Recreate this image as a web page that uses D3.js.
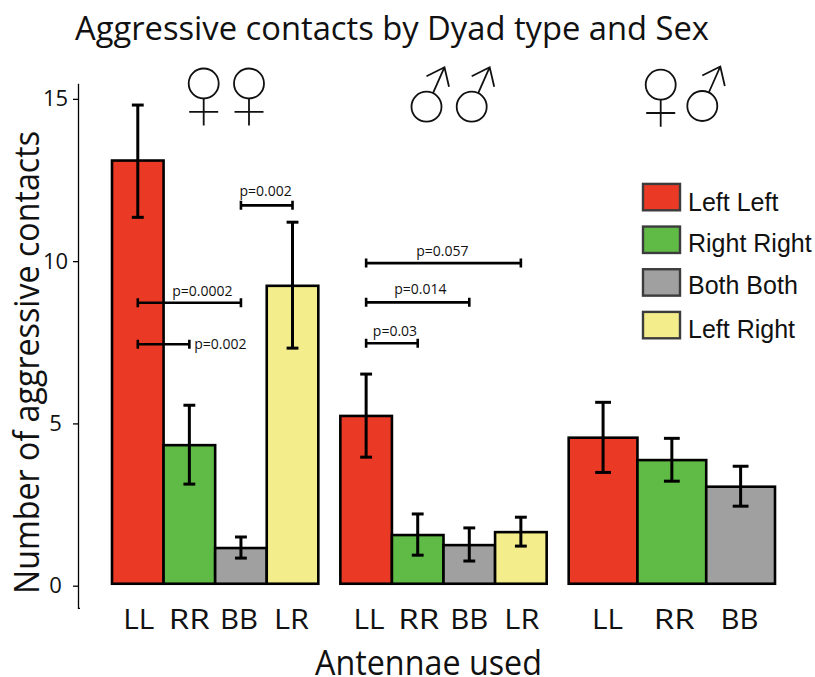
<!DOCTYPE html>
<html>
<head>
<meta charset="utf-8">
<script src="https://cdnjs.cloudflare.com/ajax/libs/d3/7.8.5/d3.min.js"></script>
<style>
  body { margin: 0; background: #fff; }
  text { font-family: "Open Sans", sans-serif; fill: #111; }
</style>
</head>
<body>
<svg id="chart" width="815" height="677"></svg>
<script>
// values
let groups = ["ff", "mm", "fm"]
let ffBars = ["LL", "RR", "BB", "LR"]
let mmBars = ["LL", "RR", "BB", "LR"]
let fmBars = ["LL", "RR", "BB"]
let ffValues = [13.1, 4.33, 1.16, 9.24]
let mmValues = [5.23, 1.56, 1.25, 1.65]
let fmValues = [4.56, 3.87, 3.05]
let ffHigh = [14.81, 5.56, 1.5, 11.2]
let ffLow = [11.35, 3.13, 0.85, 7.32]
let mmHigh = [6.52, 2.21, 1.78, 2.11]
let mmLow = [3.96, 0.94, 0.76, 1.22]
let fmHigh = [5.65, 4.54, 3.68]
let fmLow = [3.49, 3.22, 2.45]
let yTicks = [0, 5, 10, 15]
let legendLabels = ["Left Left", "Right Right", "Both Both", "Left Right"]
let legendKeys = ["LL", "RR", "BB", "LR"]
// group, from bar, to bar, height, p label
let compGroup = ["ff", "ff", "ff", "mm", "mm", "mm"]
let compFrom = ["LL", "LL", "BB", "LL", "LL", "LL"]
let compTo = ["BB", "RR", "LR", "LR", "BB", "RR"]
let compY = [8.72, 7.44, 11.72, 9.94, 8.73, 7.47]
let compLabel = ["p=0.0002", "p=0.002", "p=0.002", "p=0.057", "p=0.014", "p=0.03"]

let colors = { LL: "#ea3a25", RR: "#5fba46", BB: "#a0a0a0", LR: "#f3ee8b" }
let barNames = { ff: ffBars, mm: mmBars, fm: fmBars }
let barValues = { ff: ffValues, mm: mmValues, fm: fmValues }
let barHigh = { ff: ffHigh, mm: mmHigh, fm: fmHigh }
let barLow = { ff: ffLow, mm: mmLow, fm: fmLow }
// the x labels sit a little off their bars in the original
let labelShift = { ff: [1, 0, -2, -1], mm: [3, 1, 0, 1], fm: [4.5, 2.5, -1] }
let labelWidth = { LL: 31, RR: 41, BB: 38, LR: 35 }

let svg = d3.select("#chart")

let y = d3.scaleLinear().domain([-0.7, 15.48]).range([608.4, 83.3])
let baseValue = 0.06

let outer = d3.scaleBand().domain(groups).range([112, 775]).paddingInner(0.0965)
let inner = {}
groups.forEach(g => {
  inner[g] = d3.scaleBand()
    .domain(barNames[g])
    .range([outer(g), outer(g) + outer.bandwidth()])
})
let center = (g, b) => inner[g](b) + inner[g].bandwidth() / 2

// y axis
let yAxis = svg.append("g")
  .attr("transform", "translate(78,0)")
  .call(d3.axisLeft(y).tickValues(yTicks).tickSize(5).tickSizeOuter(0))
yAxis.select(".domain").attr("stroke", "#000").attr("stroke-width", 1.3)
yAxis.selectAll(".tick line").attr("stroke", "#000").attr("stroke-width", 1.3)
yAxis.selectAll(".tick text")
  .attr("x", -22.5)
  .attr("text-anchor", "middle")
  .attr("fill", "#111")
  .style("font-family", '"Open Sans", sans-serif')
  .style("font-size", "22px")
svg.append("line")
  .attr("x1", 78).attr("x2", 80)
  .attr("y1", y(-0.7)).attr("y2", y(-0.7))
  .attr("stroke", "#000").attr("stroke-width", 1.3)

// bars, error bars and x labels for each group
groups.forEach(g => {
  let rows = barNames[g].map((b, i) => ({
    b: b,
    value: barValues[g][i],
    high: barHigh[g][i],
    low: barLow[g][i],
    shift: labelShift[g][i]
  }))
  let group = svg.append("g")
  let capHalf = inner[g].bandwidth() * 0.115

  group.selectAll("rect")
    .data(rows).enter()
    .append("rect")
    .attr("x", d => inner[g](d.b))
    .attr("width", inner[g].bandwidth())
    .attr("y", d => y(d.value))
    .attr("height", d => y(baseValue) - y(d.value))
    .attr("fill", d => colors[d.b])
    .attr("stroke", "#000")
    .attr("stroke-width", 2.6)

  group.selectAll("line.err")
    .data(rows).enter()
    .append("line")
    .attr("class", "err")
    .attr("x1", d => center(g, d.b))
    .attr("x2", d => center(g, d.b))
    .attr("y1", d => y(d.high))
    .attr("y2", d => y(d.low))
    .attr("stroke", "#000")
    .attr("stroke-width", 3)

  ;["high", "low"].forEach(k => {
    group.selectAll("line.cap-" + k)
      .data(rows).enter()
      .append("line")
      .attr("class", "cap-" + k)
      .attr("x1", d => center(g, d.b) - capHalf)
      .attr("x2", d => center(g, d.b) + capHalf)
      .attr("y1", d => y(d[k]))
      .attr("y2", d => y(d[k]))
      .attr("stroke", "#000")
      .attr("stroke-width", 3)
  })

  group.selectAll("text")
    .data(rows).enter()
    .append("text")
    .attr("x", d => center(g, d.b) + d.shift)
    .attr("y", 629.3)
    .attr("text-anchor", "middle")
    .attr("textLength", d => labelWidth[d.b])
    .attr("lengthAdjust", "spacingAndGlyphs")
    .style("font-size", "28px")
    .text(d => d.b)
})

// significance brackets
let labelPos = [[202.3, 296], [220.3, 349], [265.6, 196], [442.3, 255.7], [420.3, 294], [395, 336]]
compLabel.forEach((label, i) => {
  let g = compGroup[i]
  let x1 = center(g, compFrom[i]), x2 = center(g, compTo[i]), yy = y(compY[i])
  let path = d3.path()
  path.moveTo(x1, yy); path.lineTo(x2, yy)
  path.moveTo(x1, yy - 4.5); path.lineTo(x1, yy + 4.5)
  path.moveTo(x2, yy - 4.5); path.lineTo(x2, yy + 4.5)
  svg.append("path")
    .attr("d", path.toString())
    .attr("fill", "none")
    .attr("stroke", "#000")
    .attr("stroke-width", 2.6)
  svg.append("text")
    .attr("x", labelPos[i][0])
    .attr("y", labelPos[i][1])
    .attr("text-anchor", "middle")
    .style("font-size", "14px")
    .text(label)
})

// sex symbols
function venus(cx, cy) {
  let s = svg.append("g").attr("fill", "none").attr("stroke", "#111").attr("stroke-width", 1.8)
  s.append("circle").attr("cx", cx).attr("cy", cy).attr("r", 15)
  s.append("path").attr("d", `M${cx},${cy + 15}V${cy + 42}M${cx - 14.5},${cy + 28.3}H${cx + 14.5}`)
}
function mars(cx, cy) {
  let s = svg.append("g").attr("fill", "none").attr("stroke", "#111").attr("stroke-width", 1.8)
  s.append("circle").attr("cx", cx).attr("cy", cy).attr("r", 15)
  s.append("path").attr("d", `M${cx + 6.5},${cy - 13.5}L${cx + 18},${cy - 39.5}M${cx},${cy - 30.5}L${cx + 18},${cy - 39.5}L${cx + 22.5},${cy - 20}`)
}
venus(203.7, 83.5)
venus(249, 83.5)
mars(426.5, 106.7)
mars(471.7, 106.7)
venus(660.7, 84.7)
mars(702.3, 106)

// legend
let legendY = d3.scalePoint().domain(legendKeys).range([183.9, 311.9])
let legendBase = [210.7, 251.7, 294, 337.7]
svg.selectAll("rect.key")
  .data(legendKeys).enter()
  .append("rect")
  .attr("class", "key")
  .attr("x", 643)
  .attr("y", d => legendY(d))
  .attr("width", 37)
  .attr("height", 26.4)
  .attr("fill", d => colors[d])
  .attr("stroke", "#3c3c3c")
  .attr("stroke-width", 2.4)
svg.selectAll("text.key")
  .data(legendLabels).enter()
  .append("text")
  .attr("class", "key")
  .attr("x", 688)
  .attr("y", (d, i) => legendBase[i])
  .style("font-family", '"Liberation Sans", sans-serif')
  .style("font-size", "25px")
  .text(d => d)

// titles
svg.append("text")
  .attr("x", 75).attr("y", 39.5)
  .attr("textLength", 634)
  .attr("lengthAdjust", "spacingAndGlyphs")
  .style("font-size", "32.5px")
  .text("Aggressive contacts by Dyad type and Sex")
svg.append("text")
  .attr("x", 315).attr("y", 675)
  .attr("textLength", 227)
  .attr("lengthAdjust", "spacingAndGlyphs")
  .style("font-size", "34px")
  .text("Antennae used")
svg.append("text")
  .attr("transform", "translate(39,362.5) rotate(-90)")
  .attr("text-anchor", "middle")
  .attr("textLength", 463)
  .attr("lengthAdjust", "spacingAndGlyphs")
  .style("font-size", "35px")
  .text("Number of aggressive contacts")
</script>
</body>
</html>
